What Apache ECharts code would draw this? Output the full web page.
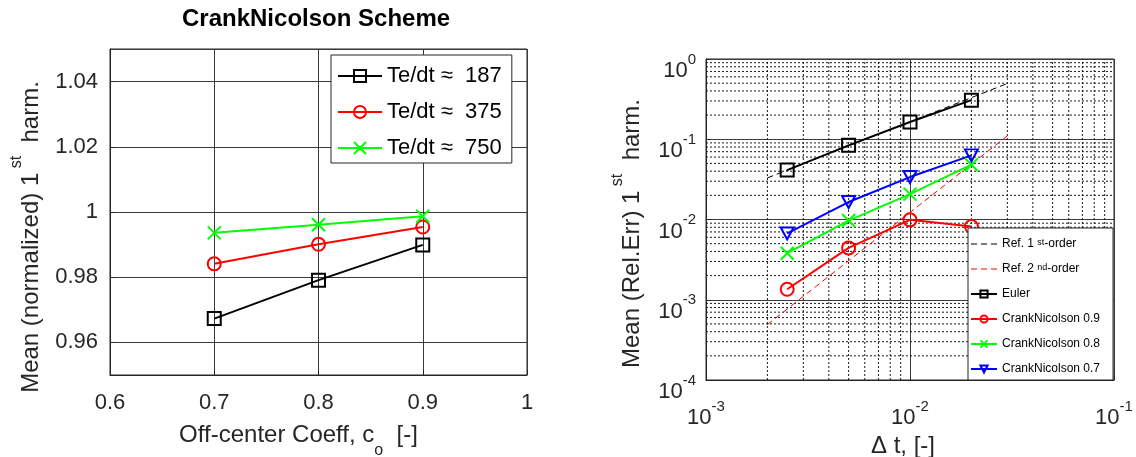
<!DOCTYPE html>
<html><head><meta charset="utf-8">
<script src="https://cdn.jsdelivr.net/npm/echarts@6/dist/echarts.min.js"></script>
<style>html,body{margin:0;padding:0;background:#fff}#c{width:1136px;height:457px}</style>
</head><body><div id="c"></div>
<script>
// ---- Left panel data ----
const coeffs = [0.7, 0.8, 0.9];
const mean187 = [0.9673, 0.9791, 0.9899];
const mean375 = [0.9841, 0.9901, 0.9954];
const mean750 = [0.9936, 0.9961, 0.9987];
const leftNames = ['Te/dt \u2248  187', 'Te/dt \u2248  375', 'Te/dt \u2248  750'];

// ---- Right panel data ----
const dtValues = [0.0025, 0.005, 0.01, 0.02];
const errEuler = [0.0413, 0.084, 0.164, 0.307];
const errCN09 = [0.00135, 0.00443, 0.0099, 0.00818];
const errCN08 = [0.0038, 0.0097, 0.0207, 0.0482];
const errCN07 = [0.0067, 0.0165, 0.0338, 0.063];
const refDt = [0.002, 0.03];
const ref1 = [0.033, 0.495];
const ref2 = [0.00049, 0.11];
const rightNames = ['Ref. 1st-order', 'Ref. 2nd-order', 'Euler', 'CrankNicolson 0.9', 'CrankNicolson 0.8', 'CrankNicolson 0.7'];

// ---- Right panel axes ----
const xLogRange = [0.001, 0.1];
const yLogRange = [0.0001, 1];
const xMinorTicks = [0.002, 0.003, 0.004, 0.005, 0.006, 0.007, 0.008, 0.009, 0.02, 0.03, 0.04, 0.05, 0.06, 0.07, 0.08, 0.09];
const yMinorTicks = [0.0002, 0.0003, 0.0004, 0.0005, 0.0006, 0.0007, 0.0008, 0.0009,
  0.002, 0.003, 0.004, 0.005, 0.006, 0.007, 0.008, 0.009,
  0.02, 0.03, 0.04, 0.05, 0.06, 0.07, 0.08, 0.09,
  0.2, 0.3, 0.4, 0.5, 0.6, 0.7, 0.8, 0.9];

const FF = 'Liberation Sans';
const AX = '#262626';
const GRIDC = '#3a3a3a';
const CROSS = 'path://M0,0L10,10M10,0L0,10';
const TRI_DOWN = 'path://M0,0L10,0L5,9Z';
const DASH_ICON = 'path://M0,0h6v1.2h-6zM10,0h6v1.2h-6zM20,0h6v1.2h-6z';

function pairs(xs, ys) { return xs.map((x, i) => [x, ys[i]]); }

function dataSeries(name, xi, xs, ys, color, symbol, size) {
  return {
    type: 'line', name, xAxisIndex: xi, yAxisIndex: xi,
    data: pairs(xs, ys), symbol, symbolSize: size, showSymbol: true,
    color, lineStyle: { color, width: 2 },
    itemStyle: { color: 'rgba(0,0,0,0)', borderColor: color, borderWidth: 2 },
    emphasis: { disabled: true }, z: 3, silent: true
  };
}
function refSeries(name, ys, color) {
  return {
    type: 'line', name, xAxisIndex: 1, yAxisIndex: 1,
    data: pairs(refDt, ys), symbol: 'none', color,
    itemStyle: { color },
    lineStyle: { color, width: 1, type: [6, 4] },
    emphasis: { disabled: true }, z: 2, silent: true
  };
}
function minorLine(pts) {
  return {
    type: 'line', name: '_minor', xAxisIndex: 1, yAxisIndex: 1, data: pts,
    symbol: 'none', z: 1, silent: true, emphasis: { disabled: true },
    lineStyle: { color: '#1a1a1a', width: 1, type: [2, 2] }
  };
}

const supFmt = v => '{b|10}{s|' + Math.round(Math.log10(v)) + '}';
const supRich = {
  b: { fontSize: 22, fontFamily: FF, color: AX, lineHeight: 30, verticalAlign: 'bottom' },
  s: { fontSize: 15, fontFamily: FF, color: AX, verticalAlign: 'top' }
};
const nameRichSup = {
  n: { fontSize: 24, fontFamily: FF, color: AX, lineHeight: 34, verticalAlign: 'bottom' },
  s: { fontSize: 16, fontFamily: FF, color: AX, verticalAlign: 'top' }
};
const nameRichSub = {
  n: { fontSize: 24, fontFamily: FF, color: AX, lineHeight: 36, verticalAlign: 'top' },
  o: { fontSize: 16, fontFamily: FF, color: AX, verticalAlign: 'bottom' }
};

const legendLabel = {
  'Ref. 1st-order': '{n|Ref. 1 }{s|st}{n|-order}',
  'Ref. 2nd-order': '{n|Ref. 2 }{s|nd}{n|-order}'
};

const minorSeries = xMinorTicks.map(v => minorLine([[v, yLogRange[0]], [v, yLogRange[1]]]))
  .concat(yMinorTicks.map(v => minorLine([[xLogRange[0], v], [xLogRange[1], v]])));

const option = {
  animation: false,
  backgroundColor: '#fff',
  title: {
    text: 'CrankNicolson Scheme', left: 182, top: 7, padding: 0,
    textStyle: { fontSize: 24, fontWeight: 'bold', color: '#000', fontFamily: FF }
  },
  grid: [
    { left: 110, top: 49, width: 417, height: 326, outerBoundsMode: 'none', containLabel: false,
      show: true, borderColor: AX, borderWidth: 1, backgroundColor: '#fff' },
    { left: 706, top: 59, width: 408, height: 321, outerBoundsMode: 'none', containLabel: false,
      show: true, borderColor: AX, borderWidth: 1, backgroundColor: '#fff' }
  ],
  xAxis: [
    {
      type: 'value', gridIndex: 0, min: 0.6, max: 1, interval: 0.1,
      axisLine: { show: true, lineStyle: { color: AX } },
      axisTick: { inside: true, length: 5, lineStyle: { color: AX } },
      axisLabel: { fontSize: 22, color: AX, fontFamily: FF, margin: 17 },
      splitLine: { show: true, lineStyle: { color: GRIDC, width: 1 } },
      name: '{n|Off-center Coeff, c}{o|o}{n|  [-]}', nameLocation: 'middle', nameGap: 48,
      nameTextStyle: { rich: nameRichSub, padding: [0, 40, 0, 0] }
    },
    {
      type: 'log', logBase: 10, gridIndex: 1, min: xLogRange[0], max: xLogRange[1],
      axisLine: { show: true, lineStyle: { color: AX } },
      axisTick: { inside: true, length: 5, lineStyle: { color: AX } },
      axisLabel: { formatter: supFmt, rich: supRich, margin: 19 },
      splitLine: { show: true, lineStyle: { color: GRIDC, width: 1 } },
      name: '{n|\u0394 t, [-]}', nameLocation: 'middle', nameGap: 44,
      nameTextStyle: { rich: nameRichSup, padding: [0, 14, 0, 0] }
    }
  ],
  yAxis: [
    {
      type: 'value', gridIndex: 0, min: 0.95, max: 1.05, splitNumber: 5,
      axisLine: { show: true, lineStyle: { color: AX } },
      axisTick: { inside: true, length: 5, lineStyle: { color: AX } },
      axisLabel: { fontSize: 22, color: AX, fontFamily: FF, margin: 12, showMinLabel: false, showMaxLabel: false },
      splitLine: { show: true, lineStyle: { color: GRIDC, width: 1 } },
      name: '{n|Mean (normalized) 1}{s| st}{n|  harm.}', nameLocation: 'middle', nameGap: 67, nameRotate: 90,
      nameTextStyle: { rich: nameRichSup, padding: [0, 50, 0, 0] }
    },
    {
      type: 'log', logBase: 10, gridIndex: 1, min: yLogRange[0], max: yLogRange[1],
      axisLine: { show: true, lineStyle: { color: AX } },
      axisTick: { inside: true, length: 5, lineStyle: { color: AX } },
      axisLabel: { formatter: supFmt, rich: supRich, margin: 10, padding: [16, 0, 0, 0] },
      splitLine: { show: true, lineStyle: { color: GRIDC, width: 1 } },
      name: '{n|Mean (Rel.Err) 1}{s| st}{n|  harm.}', nameLocation: 'middle', nameGap: 62, nameRotate: 90,
      nameTextStyle: { rich: nameRichSup, padding: [0, 28, 0, 0] }
    }
  ],
  legend: [
    {
      orient: 'vertical', left: 331, top: 55, padding: [10, 10, 4, 6],
      itemWidth: 44, itemHeight: 15, itemGap: 14,
      backgroundColor: '#fff', borderColor: AX, borderWidth: 1, borderRadius: 0,
      selectedMode: false, data: leftNames,
      textStyle: { fontSize: 22, color: '#000', fontFamily: FF }
    },
    {
      orient: 'vertical', left: 968, top: 228, padding: [10, 13, 5, 2],
      itemWidth: 26, itemHeight: 9, itemGap: 13,
      backgroundColor: '#fff', borderColor: AX, borderWidth: 1, borderRadius: 0,
      selectedMode: false,
      data: rightNames.map((n, i) => i < 2 ? { name: n, icon: DASH_ICON } : n),
      formatter: name => legendLabel[name] || ('{n|' + name + '}'),
      textStyle: {
        fontSize: 12, color: '#000', fontFamily: FF,
        rich: {
          n: { fontSize: 12, color: '#000', fontFamily: FF },
          s: { fontSize: 9, color: '#000', fontFamily: FF, verticalAlign: 'top' }
        }
      }
    }
  ],
  series: minorSeries.concat([
    dataSeries(leftNames[0], 0, coeffs, mean187, '#000000', 'rect', 13),
    dataSeries(leftNames[1], 0, coeffs, mean375, '#ff0000', 'circle', 13),
    dataSeries(leftNames[2], 0, coeffs, mean750, '#00ff00', CROSS, 13),
    refSeries(rightNames[0], ref1, '#000000'),
    refSeries(rightNames[1], ref2, '#ff0000'),
    dataSeries(rightNames[2], 1, dtValues, errEuler, '#000000', 'rect', 13),
    dataSeries(rightNames[3], 1, dtValues, errCN09, '#ff0000', 'circle', 13),
    dataSeries(rightNames[4], 1, dtValues, errCN08, '#00ff00', CROSS, 13),
    dataSeries(rightNames[5], 1, dtValues, errCN07, '#0000ff', TRI_DOWN, [13, 12])
  ])
};

const chart = echarts.init(document.getElementById('c'), null, { renderer: 'canvas' });
chart.setOption(option);
</script>
</body></html>
